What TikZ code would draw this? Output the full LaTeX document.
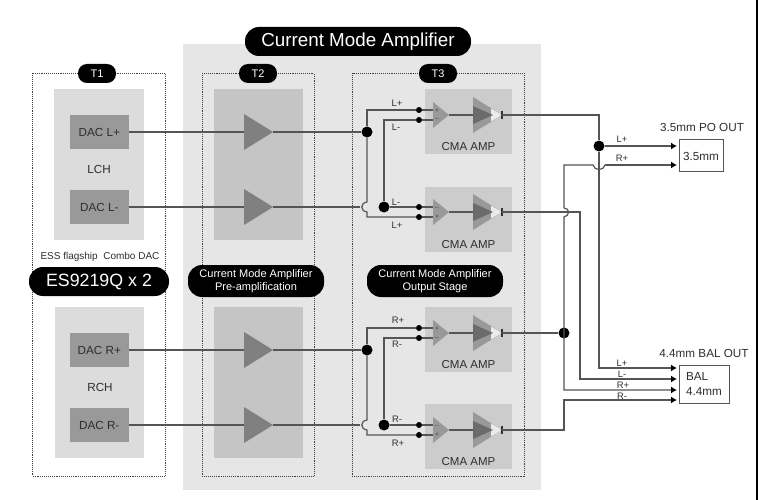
\documentclass[tikz,border=0pt]{standalone}
\usepackage{fontspec}
\setmainfont{Liberation Sans}
\usetikzlibrary{shapes.geometric,arrows.meta}
\definecolor{bgzone}{HTML}{E6E6E6}
\definecolor{dacpanel}{HTML}{DCDCDC}
\definecolor{midpanel}{HTML}{C5C5C5}
\definecolor{amppanel}{HTML}{CCCCCC}
\definecolor{dacbox}{HTML}{999999}
\definecolor{tricol}{HTML}{808080}
\definecolor{wirecol}{HTML}{555555}
\definecolor{txt}{HTML}{2E2E2E}
\tikzset{
	panel/.style={inner sep=0pt,outer sep=0pt,anchor=north west},
	frame/.style={draw=black!75,densely dotted,line width=0.9pt},
	pill/.style={fill=black,text=white,rounded corners=9pt,inner sep=0pt,align=center},
	wire/.style={draw=wirecol,line width=1.2pt},
	feed/.style={wire,-{Latex[length=6pt,width=7pt,black]}},
	tri/.style={isosceles triangle,isosceles triangle stretches,inner sep=0pt,outer sep=0pt,anchor=apex},
	bigdot/.style={circle,fill=black,inner sep=0pt,minimum size=11pt},
	smalldot/.style={circle,fill=black,inner sep=0pt,minimum size=6pt},
	lbl/.style={text=txt,font=\fontsize{11.7}{14}\selectfont,inner sep=0pt},
	sig/.style={text=txt,font=\fontsize{9.4}{10}\selectfont,inner sep=0pt},
	outbox/.style={draw=wirecol,line width=1pt,fill=white,inner sep=0pt,panel}
}
\begin{document}
\begin{tikzpicture}[x=1pt,y=-1pt]
	\useasboundingbox (0,0) rectangle (758,500);
	\draw[black,line width=2pt] (757,0) -- (757,500);
	% zones
	\node[panel,fill=bgzone,minimum width=358pt,minimum height=446pt] (zone) at (183,44) {};
	\node[panel,fill=dacpanel,minimum width=90pt,minimum height=151pt] (lch) at (54,89) {};
	\node[panel,fill=dacpanel,minimum width=89pt,minimum height=151pt] (rch) at (55,307) {};
	\node[panel,fill=midpanel,minimum width=89pt,minimum height=151pt] (preL) at (214,89) {};
	\node[panel,fill=midpanel,minimum width=89pt,minimum height=151pt] (preR) at (214,307) {};
	\draw[frame] (32.5,73.5) rectangle (165.5,476);
	\draw[frame] (202,73.5) rectangle (314,476);
	\draw[frame] (352,73.5) rectangle (524,476);
	\node[lbl] (lchText) at (99,169) {LCH};
	\node[lbl] (rchText) at (100,387) {RCH};
	% dacs and first stage
	\foreach \name/\cy/\txtc in {A/132/DAC L+,B/207/DAC L-,C/350/DAC R+,D/425/DAC R-} {
		\node[panel,fill=dacbox,minimum width=58.5pt,minimum height=34pt,anchor=west,text=txt,font=\fontsize{11.7}{13}\selectfont] (dac\name) at (70,\cy) {\txtc};
		\node[tri,fill=tricol,minimum width=36pt,minimum height=29pt] (pre\name) at (273,\cy) {};
		\draw[wire] (dac\name) -- (pre\name.lower side);
	}
	% output stage
	\foreach \name/\top/\cy/\up/\low in {A/89/115/+/$-$,B/187/212/$-$/+,C/307/333/+/$-$,D/404/430/$-$/+} {
		\node[panel,fill=amppanel,minimum width=87pt,minimum height=65pt] (amp\name) at (425,\top) {};
		\node[lbl,font=\fontsize{11.5}{13}\selectfont] (ampText\name) at (468.5,\top+58) {CMA AMP};
		\node[tri,fill=dacbox,minimum width=26pt,minimum height=16pt] (in\name) at (449,\cy) {};
		\node[tri,fill=dacbox,minimum width=36pt,minimum height=29pt] (out\name) at (502,\cy) {};
		\node[tri,fill=white!60!amppanel,minimum width=13pt,minimum height=11pt] (tip\name) at (502,\cy) {};
		\node[tri,fill=black!58,minimum width=18pt,minimum height=20pt] (core\name) at (493,\cy) {};
		\node[smalldot] (p\name) at (419,\cy-5) {};
		\node[smalldot] (n\name) at (419,\cy+5) {};
		\node[text=txt,inner sep=0pt,font=\fontsize{6}{6}\selectfont] (up\name) at (437,\cy-4.5) {\up};
		\node[text=txt,inner sep=0pt,font=\fontsize{6}{6}\selectfont] (low\name) at (437,\cy+4.5) {\low};
		\draw[wire] (p\name) -- ++(14,0);
		\draw[wire] (n\name) -- ++(14,0);
		\draw[wire] (in\name.apex) -- (out\name.lower side);
		\draw[wire,draw=black!80] (502,\cy-4) -- (502,\cy+4);
	}
	% junctions
	\node[bigdot] (jA) at (367,132) {};
	\node[bigdot] (jB) at (384,207) {};
	\node[bigdot] (jC) at (367,350) {};
	\node[bigdot] (jD) at (384,425) {};
	\node[bigdot] (jPo) at (599,146) {};
	\node[bigdot] (jOut) at (564,333) {};
	\coordinate (gapB) at (360,207);
	\coordinate (gapD) at (360,425);
	\draw[wire] (preA.apex) -- (jA);
	\draw[wire] (preC.apex) -- (jC);
	\draw[wire] (preB.apex) -- (gapB);
	\draw[wire] (preD.apex) -- (gapD);
	\draw[wire] (jA) |- (pA);
	\draw[wire] (jB) |- (nA);
	\draw[wire] (jB) -- (pB);
	\draw[wire] (jC) |- (pC);
	\draw[wire] (jD) |- (nC);
	\draw[wire] (jD) -- (pD);
	\draw[wire] (jA) -- (367,202) .. controls (360,203) and (360,211) .. (367,212) |- (nB);
	\draw[wire] (jC) -- (367,420) .. controls (360,421) and (360,429) .. (367,430) |- (nD);
	% outputs
	\node[lbl] (poTitle) at (702,127) {3.5mm PO OUT};
	\node[outbox,minimum width=44pt,minimum height=32pt,text=txt,font=\fontsize{11.7}{14}\selectfont] (po) at (679,140) {3.5mm};
	\node[lbl] (balTitle) at (704,353) {4.4mm BAL OUT};
	\node[outbox,minimum width=50pt,minimum height=38pt,text=txt,font=\fontsize{11.7}{15}\selectfont,align=left] (bal) at (679,365) {BAL\\4.4mm};
	\coordinate (poL) at (677,146);
	\coordinate (poR) at (677,165);
	\coordinate (balLp) at (677,368);
	\coordinate (balLn) at (677,379);
	\coordinate (balRp) at (677,390);
	\coordinate (balRn) at (677,400);
	\draw[wire] (502,115) -| (jPo);
	\draw[feed] (jPo) -- (poL);
	\draw[feed] (jPo) |- (balLp);
	\draw[feed] (564,208) .. controls (570,208) and (570,216) .. (564,217) -- (564,390) -- (balRp);
	\draw[wire] (564,208) -- (564,165) -- (593,165) .. controls (594,171) and (604,171) .. (605,165);
	\draw[feed] (605,165) -- (poR);
	\draw[feed] (502,212) -| (580,379) -- (balLn);
	\draw[wire] (502,333) -- (jOut);
	\draw[feed] (502,430) -| (564,400) -- (balRn);
	% signal labels
	\foreach \i/\x/\y/\s in {a/397/103/L+,b/396/127/L-,c/396/202/L-,d/397/225/L+,e/398/320/R+,f/397/344/R-,g/397/419/R-,h/398/443/R+,i/622/139/L+,j/622/158/R+,k/622/363/L+,l/622/374/L-,m/623/385/R+,n/622/396/R-} {
		\node[sig] (sig\i) at (\x,\y) {\s};
	}
	% pills
	\node[text=txt,inner sep=0pt,font=\fontsize{10}{12}\selectfont] (essText) at (100,257) {ESS flagship\ \ Combo DAC};
	\node[pill,rounded corners=14pt,minimum width=226pt,minimum height=29pt,font=\fontsize{18.8}{22}\selectfont] (title) at (358,41.5) {Current Mode Amplifier};
	\node[pill,minimum width=38pt,minimum height=19pt,font=\fontsize{11}{13}\selectfont] (tOne) at (97,73.5) {T1};
	\node[pill,minimum width=38pt,minimum height=19pt,font=\fontsize{11}{13}\selectfont] (tTwo) at (258,73.5) {T2};
	\node[pill,minimum width=38pt,minimum height=19pt,font=\fontsize{11}{13}\selectfont] (tThree) at (438,73.5) {T3};
	\node[pill,rounded corners=14pt,minimum width=140pt,minimum height=29pt,font=\fontsize{17.8}{21}\selectfont] (chip) at (99,281.5) {ES9219Q x 2};
	\node[pill,rounded corners=14pt,minimum width=136pt,minimum height=32pt,font=\fontsize{11}{13.5}\selectfont] (preText) at (256,281) {Current Mode Amplifier\\Pre-amplification};
	\node[pill,rounded corners=14pt,minimum width=136pt,minimum height=32pt,font=\fontsize{11}{13.5}\selectfont] (outText) at (435,281) {Current Mode Amplifier\\Output Stage};
\end{tikzpicture}
\end{document}
